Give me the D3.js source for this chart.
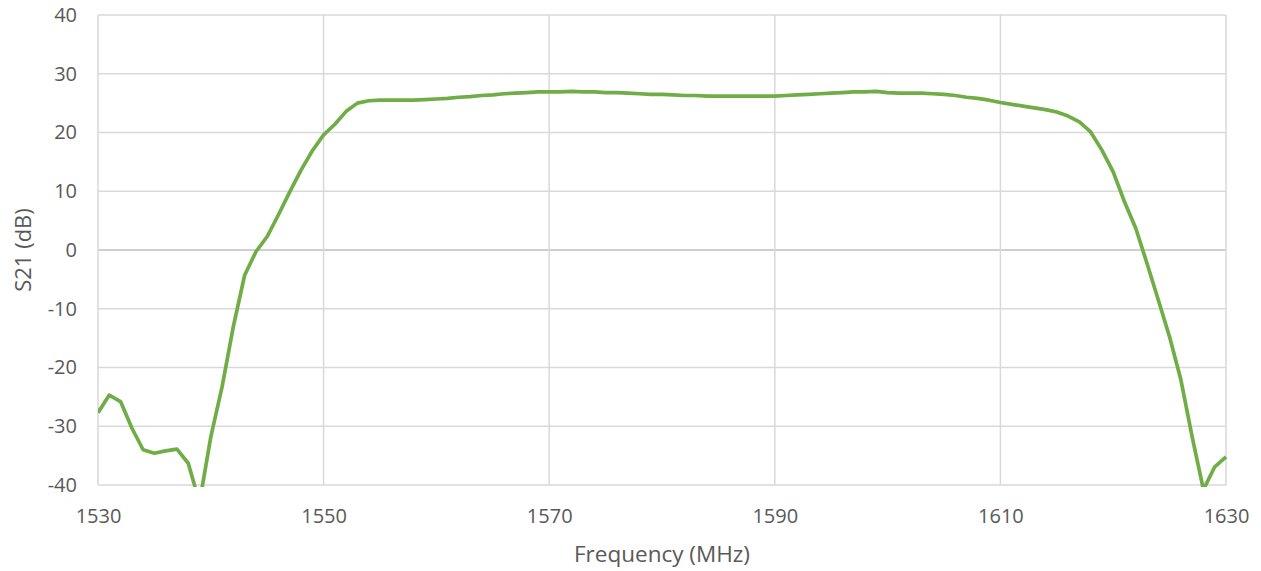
<!DOCTYPE html>
<html>
<head>
<meta charset="utf-8">
<script src="https://cdn.jsdelivr.net/npm/d3@7"></script>
<style>
  body { margin: 0; background: #fff; }
  svg text { font-family: "Open Sans", sans-serif; fill: #595959; }
</style>
</head>
<body>
<svg id="chart" width="1261" height="571"></svg>
<script>
// frequency sweep, 1 MHz steps
const freqs = d3.range(1530, 1631);
const s21 = [
  -27.7, -24.7, -25.8, -30.3, -34.0, -34.6, -34.2, -33.9, -36.3, -43.0,
  -31.8, -23.3, -13.0, -4.3, -0.3, 2.3, 6.0, 9.9, 13.6, 16.9,
  19.6, 21.4, 23.6, 25.0, 25.4, 25.5, 25.5, 25.5, 25.5, 25.6,
  25.7, 25.8, 26.0, 26.1, 26.3, 26.4, 26.6, 26.7, 26.8, 26.9,
  26.9, 26.9, 27.0, 26.9, 26.9, 26.8, 26.8, 26.7, 26.6, 26.5,
  26.5, 26.4, 26.3, 26.3, 26.2, 26.2, 26.2, 26.2, 26.2, 26.2,
  26.2, 26.3, 26.4, 26.5, 26.6, 26.7, 26.8, 26.9, 26.9, 27.0,
  26.8, 26.7, 26.7, 26.7, 26.6, 26.5, 26.3, 26.0, 25.8, 25.5,
  25.1, 24.8, 24.5, 24.2, 23.9, 23.5, 22.8, 21.8, 20.1, 17.0,
  13.3, 8.2, 3.7, -2.3, -8.5, -14.8, -22.1, -31.8, -40.8, -36.9,
  -35.2
];
const xTicks = [1530, 1550, 1570, 1590, 1610, 1630];
const yTicks = [-40, -30, -20, -10, 0, 10, 20, 30, 40];

const svg = d3.select("#chart");
const plotL = 98, plotR = 1226, plotT = 15, plotB = 485;

const x = d3.scaleLinear().domain([1530, 1630]).range([plotL, plotR]);
const y = d3.scaleLinear().domain([-40, 40]).range([plotB, plotT]);

// gridlines
svg.append("g")
    .selectAll("line")
    .data(yTicks)
    .enter().append("line")
    .attr("x1", plotL).attr("x2", plotR)
    .attr("y1", d => y(d)).attr("y2", d => y(d))
    .attr("stroke", d => d === 0 ? "#bfbfbf" : "#d9d9d9")
    .attr("stroke-width", 1.5);

svg.append("g")
    .selectAll("line")
    .data(xTicks)
    .enter().append("line")
    .attr("x1", d => x(d)).attr("x2", d => x(d))
    .attr("y1", plotT).attr("y2", plotB)
    .attr("stroke", "#d9d9d9")
    .attr("stroke-width", 1.5);

// axes (labels only), plain hyphen for negatives like the original
const xAxis = svg.append("g")
    .attr("transform", "translate(0," + plotB + ")")
    .call(d3.axisBottom(x).tickValues(xTicks).tickSize(0).tickPadding(24).tickFormat(d => String(d)));
const yAxis = svg.append("g")
    .attr("transform", "translate(" + plotL + ",0)")
    .call(d3.axisLeft(y).tickValues(yTicks).tickSize(0).tickPadding(21).tickFormat(d => String(d)));
[xAxis, yAxis].forEach(function(a){
    a.select(".domain").remove();
    a.selectAll("text").style("font-size", "20px").attr("fill", "#595959");
});

// curve, clipped to the plot area
svg.append("clipPath").attr("id", "plot")
  .append("rect").attr("x", plotL).attr("y", plotT - 2)
    .attr("width", plotR - plotL + 2).attr("height", plotB - plotT + 4);

const line = d3.line()
    .x((d, i) => x(freqs[i]))
    .y(d => y(d));

svg.append("path")
    .datum(s21)
    .attr("clip-path", "url(#plot)")
    .attr("d", line)
    .attr("fill", "none")
    .attr("stroke", "#70ad47")
    .attr("stroke-width", 3.7)
    .attr("stroke-linejoin", "round");

// titles
svg.append("text")
    .attr("x", (plotL + plotR) / 2).attr("y", 562)
    .attr("text-anchor", "middle")
    .style("font-size", "22.5px")
    .text("Frequency (MHz)");

svg.append("text")
    .attr("transform", "translate(31," + (plotT + plotB) / 2 + ") rotate(-90)")
    .attr("text-anchor", "middle")
    .style("font-size", "22px")
    .text("S21 (dB)");
</script>
</body>
</html>
